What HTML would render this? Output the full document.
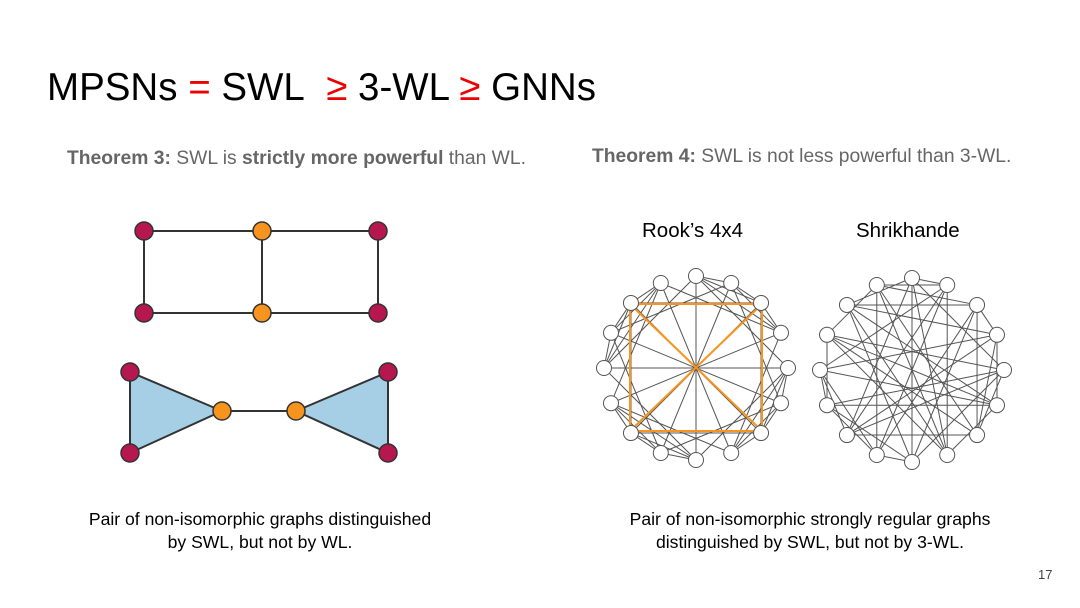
<!DOCTYPE html>
<html><head><meta charset="utf-8"><style>
body{margin:0;width:1080px;height:608px;background:#fff;overflow:hidden;font-family:"Liberation Sans",sans-serif;position:relative}
.t{position:absolute;white-space:nowrap}
</style></head><body>
<div class="t" style="left:47px;top:66px;font-size:38.5px;color:#000">MPSNs <span style="color:#e00">=</span> SWL&nbsp; <span style="color:#e00">≥</span> 3-WL <span style="color:#e00">≥</span> GNNs</div>
<div class="t" style="left:67px;top:148px;font-size:19.3px;color:#666"><b>Theorem 3:</b> SWL is <b>strictly more powerful</b> than WL.</div>
<div class="t" style="left:592px;top:146px;font-size:19.3px;color:#666"><b>Theorem 4:</b> SWL is not less powerful than 3-WL.</div>
<div class="t" style="left:642px;top:219px;font-size:20.5px">Rook’s 4x4</div>
<div class="t" style="left:856px;top:219px;font-size:20.5px">Shrikhande</div>
<div class="t" style="left:60px;top:508px;font-size:17.6px;line-height:23px;text-align:center;width:400px">Pair of non-isomorphic graphs distinguished<br>by SWL, but not by WL.</div>
<div class="t" style="left:590px;top:508px;font-size:17.6px;line-height:23px;text-align:center;width:440px">Pair of non-isomorphic strongly regular graphs<br>distinguished by SWL, but not by 3-WL.</div>
<div class="t" style="left:1038px;top:567px;font-size:13px;color:#444">17</div>
<svg width="1080" height="608" style="position:absolute;left:0;top:0" id="s">
<g stroke="#333" stroke-width="2" fill="none">
<path d="M144 231H378V313H144Z M262 231V313"/>
</g>
<polygon points="130,372 130,453 222,411" fill="#a6cfe6" stroke="#333" stroke-width="2"/>
<polygon points="388,372 388,453 296,411" fill="#a6cfe6" stroke="#333" stroke-width="2"/>
<line x1="222" y1="411" x2="296" y2="411" stroke="#333" stroke-width="2"/>
<g stroke="#333" stroke-width="1.5">
<circle cx="144" cy="231" r="9" fill="#b5174e"/><circle cx="262" cy="231" r="9" fill="#f7941d"/><circle cx="378" cy="231" r="9" fill="#b5174e"/>
<circle cx="144" cy="313" r="9" fill="#b5174e"/><circle cx="262" cy="313" r="9" fill="#f7941d"/><circle cx="378" cy="313" r="9" fill="#b5174e"/>
<circle cx="130" cy="372" r="9" fill="#b5174e"/><circle cx="130" cy="453" r="9" fill="#b5174e"/><circle cx="222" cy="411" r="9" fill="#f7941d"/>
<circle cx="296" cy="411" r="9" fill="#f7941d"/><circle cx="388" cy="372" r="9" fill="#b5174e"/><circle cx="388" cy="453" r="9" fill="#b5174e"/>
</g>
<g id="r"></g><g id="h"></g>
</svg>
<script>
var NS="http://www.w3.org/2000/svg";
function el(p,t,a){var e=document.createElementNS(NS,t);for(var k in a)e.setAttribute(k,a[k]);p.appendChild(e);return e;}
function pos(cx,cy,R,i){var a=-Math.PI/2+i*2*Math.PI/16;return [cx+R*Math.cos(a),cy+R*Math.sin(a)];}
var g=document.getElementById('r');var P=[];for(var i=0;i<16;i++)P.push(pos(696,368,92,i));
var lab=[];for(var k=0;k<16;k++){lab.push([k%4,Math.floor(k/4)]);}
for(var a=0;a<16;a++)for(var b=a+1;b<16;b++){if(lab[a][0]==lab[b][0]||lab[a][1]==lab[b][1])el(g,'line',{x1:P[a][0],y1:P[a][1],x2:P[b][0],y2:P[b][1],stroke:'#555','stroke-width':1});}
el(g,'path',{d:'M630 304H762V431H630Z M630 304L762 431 M762 304L630 431',stroke:'#f7941d','stroke-width':2,fill:'none'});
for(var i=0;i<16;i++)el(g,'circle',{cx:P[i][0],cy:P[i][1],r:7.5,fill:'#fff',stroke:'#555','stroke-width':1});
var h=document.getElementById('h');var Q=[];for(var i=0;i<16;i++)Q.push(pos(912,370,92,i));
var perm=[0,7,13,4,10,1,15,6,3,12,9,2,14,5,11,8];
var D=[[0,1],[0,3],[1,0],[3,0],[1,1],[3,3]];
for(var a=0;a<16;a++)for(var b=a+1;b<16;b++){var ax=a%4,ay=a>>2,bx=b%4,by=b>>2;var dx=(bx-ax+4)%4,dy=(by-ay+4)%4;
for(var d=0;d<6;d++)if(D[d][0]==dx&&D[d][1]==dy){var A=Q[perm[a]],B=Q[perm[b]];el(h,'line',{x1:A[0],y1:A[1],x2:B[0],y2:B[1],stroke:'#555','stroke-width':1});}}
for(var i=0;i<16;i++)el(h,'circle',{cx:Q[i][0],cy:Q[i][1],r:7.5,fill:'#fff',stroke:'#555','stroke-width':1});
</script>
</body></html>
